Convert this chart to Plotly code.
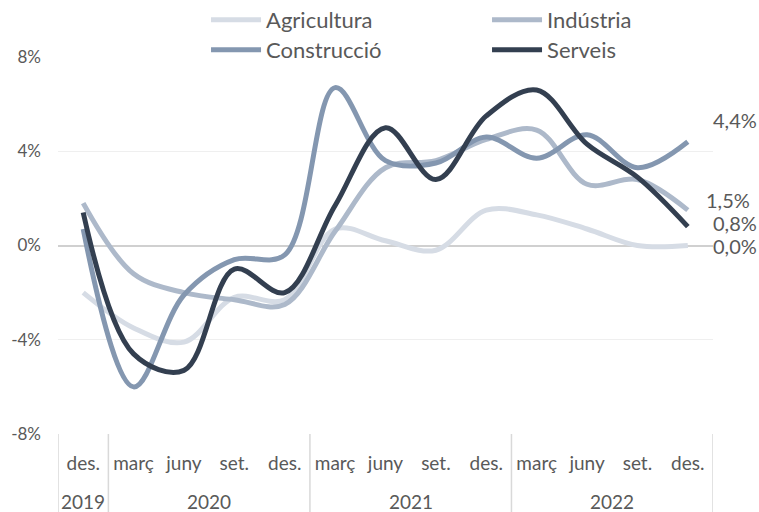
import plotly.graph_objects as go

years = ["2019", "2020", "2020", "2020", "2020", "2021", "2021", "2021", "2021",
         "2022", "2022", "2022", "2022"]
months = ["des.", "març", "juny", "set.", "des.", "març", "juny", "set.", "des.",
          "març", "juny", "set.", "des."]

agricultura = [-2.0, -3.5, -4.1, -2.2, -2.3, 0.7, 0.2, -0.2, 1.5, 1.3, 0.7, 0.0, 0.0]
industria = [1.8, -1.2, -2.0, -2.3, -2.5, 0.6, 3.3, 3.6, 4.5, 4.9, 2.6, 2.8, 1.5]
construccio = [0.7, -6.0, -2.1, -0.6, -0.4, 6.7, 3.6, 3.5, 4.6, 3.7, 4.7, 3.3, 4.4]
serveis = [1.4, -4.6, -5.3, -1.0, -2.0, 1.7, 5.0, 2.8, 5.5, 6.6, 4.3, 2.9, 0.8]

series = [
    ("Agricultura", agricultura, "#D6DCE5"),
    ("Indústria", industria, "#ADB9CA"),
    ("Construcció", construccio, "#8497B0"),
    ("Serveis", serveis, "#333F50"),
]

end_labels = ["4,4%", "1,5%", "0,8%", "0,0%"]
end_values = [construccio[-1], industria[-1], serveis[-1], agricultura[-1]]
end_yshifts = [22, 10, 4, 0]
end_xshifts = [-2, -9, -2, -2]

ytick_vals = [-8, -4, 0, 4, 8]
ytick_text = ["-8%", "-4%", "0%", "4%", "8%"]

FONT = "Lato, 'Open Sans', sans-serif"
TXT = "#595959"
DIV = "#D9D9D9"

idx = list(range(len(months)))

legend_names = ["legend", "legend2", "legend3", "legend4"]
legend_pos = [(0.226, 1.098), (0.655, 1.098), (0.226, 1.0186), (0.655, 1.0186)]

fig = go.Figure()
for (name, vals, col), lg in zip(series, legend_names):
    fig.add_trace(go.Scatter(
        x=idx, y=vals, name=name, mode="lines", legend=lg,
        line=dict(color=col, width=5, shape="spline", smoothing=1.0),
    ))

for txt, v, ys, xs in zip(end_labels, end_values, end_yshifts, end_xshifts):
    fig.add_annotation(
        x=1, xref="paper", y=v, yref="y", yshift=ys, xshift=xs,
        text=txt, showarrow=False, xanchor="left", yanchor="middle",
        font=dict(size=20, color=TXT, family=FONT),
    )

# year group labels and dividers
groups = []
for i, yv in enumerate(years):
    if groups and groups[-1][0] == yv:
        groups[-1][2] = i
    else:
        groups.append([yv, i, i])
bounds = [g[1] - 0.5 for g in groups] + [groups[-1][2] + 0.5]
for yv, a, b in groups:
    fig.add_annotation(
        x=(a + b) / 2, xref="x", y=-0.178, yref="paper", text=yv,
        showarrow=False, xanchor="center", yanchor="middle",
        font=dict(size=19, color=TXT, family=FONT),
    )
for xb in bounds:
    fig.add_shape(type="line", xref="x", yref="paper", x0=xb, x1=xb, y0=0, y1=-0.21,
                  line=dict(color=DIV, width=1.5))

legend_common = dict(
    orientation="h", xanchor="left", yanchor="middle",
    font=dict(size=22, color=TXT, family=FONT),
    itemwidth=50, bgcolor="rgba(0,0,0,0)", borderwidth=0,
)
layout_legends = {}
for lg, (lx, ly) in zip(legend_names, legend_pos):
    layout_legends[lg] = dict(x=lx, y=ly, **legend_common)

fig.update_layout(
    width=759, height=512,
    margin=dict(l=58, r=46, t=57, b=78, autoexpand=False),
    paper_bgcolor="white", plot_bgcolor="white",
    font=dict(family=FONT, size=16, color=TXT),
    showlegend=True,
    **layout_legends,
)

fig.update_yaxes(
    range=[-8, 8], tickvals=ytick_vals, ticktext=ytick_text,
    showgrid=True, gridcolor="#EFEFEF", gridwidth=1,
    zeroline=True, zerolinecolor="#D0D0D0", zerolinewidth=1.5,
    ticks="", ticklabelstandoff=16,
    tickfont=dict(size=17, color=TXT, family=FONT),
)
fig.update_xaxes(
    range=[-0.5, len(months) - 0.5],
    tickvals=idx, ticktext=months,
    showgrid=False, showline=False, zeroline=False,
    ticks="", ticklabelstandoff=16,
    tickfont=dict(size=19, color=TXT, family=FONT),
)

fig.write_html("out.html", config={"displayModeBar": False},
               post_script="document.body.style.margin='0';")
